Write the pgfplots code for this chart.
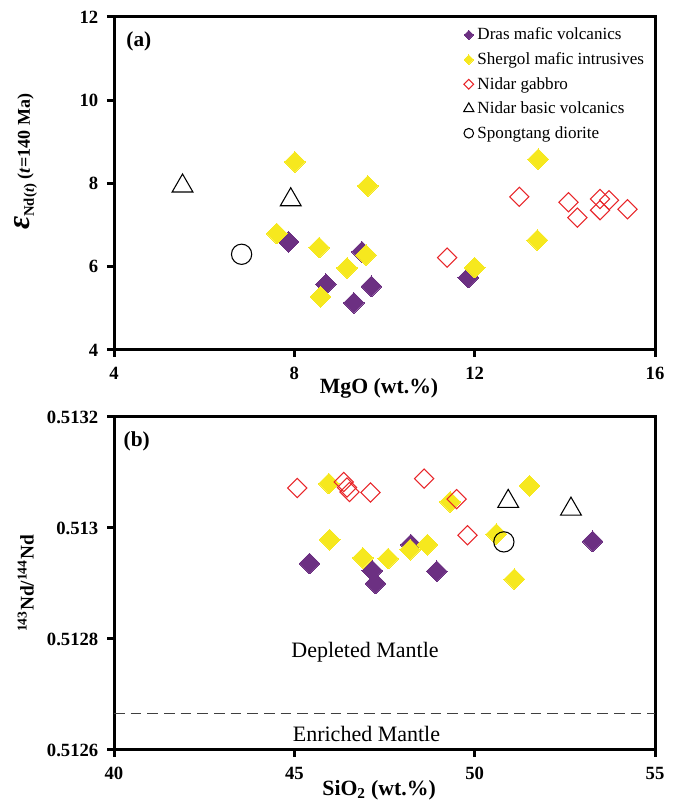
\documentclass[border=0pt]{standalone}
\usepackage{fontspec}
\setmainfont{Liberation Serif}
\usepackage{pgfplots}
\pgfplotsset{compat=1.18}
\definecolor{dras}{RGB}{108,48,130}
\definecolor{sherg}{RGB}{246,232,30}
\definecolor{nidar}{RGB}{232,38,42}
\pgfplotsset{
  myax/.style={
    width=405.75pt, height=249.75pt, scale only axis,
    axis line style={line width=2.25pt},
    tick align=outside, xtick pos=bottom, ytick pos=left,
    major tick length=5.25pt,
    every tick/.style={line width=2.25pt, black},
    tick label style={font=\bfseries\fontsize{14}{16}\selectfont},
    xticklabel style={yshift=-4pt},
    yticklabel style={xshift=-3pt},
    /pgf/number format/assume math mode=true,
    legend image code/.code={\path[draw=none, fill=none] (-5pt,-4pt) rectangle (5pt,4pt); \draw[#1] plot coordinates {(0pt,0pt)};},
  },
  dras/.style={only marks, color=dras, mark=square*, mark size=5.5pt,
    mark options={rotate=45, fill=dras, line width=0pt},
    legend image post style={mark size=2.5pt}},
  sherg/.style={only marks, color=sherg, mark=square*, mark size=5.5pt,
    mark options={rotate=45, fill=sherg, line width=0pt},
    legend image post style={mark size=2.5pt}},
  nidar/.style={only marks, color=nidar, mark=square, mark size=5.1pt,
    mark options={rotate=45, line width=0.8pt},
    legend image post style={mark size=2.6pt}},
  nbv/.style={only marks, color=black, mark=triangle, mark size=9pt,
    mark options={line width=0.8pt},
    legend image post style={mark size=4.4pt}},
  spong/.style={only marks, color=black, mark=o, mark size=7.6pt,
    mark options={line width=0.8pt},
    legend image post style={mark size=3.6pt}},
}
\begin{document}
\begin{tikzpicture}
\useasboundingbox (-85.5pt,-341.25pt) rectangle (423.75pt,262.5pt);
\begin{axis}[myax,
  xmin=4, xmax=16, ymin=4, ymax=12,
  xtick={4,8,12,16}, ytick={4,6,8,10,12},
  xlabel={MgO (wt.\%)},
  every axis x label/.style={at={(axis description cs:0.49,0)}, anchor=base, yshift=-32.5pt, font=\bfseries\fontsize{16.3}{18}\selectfont},
  ylabel={{\fontsize{24}{24}\selectfont\itshape ε}{\fontsize{11}{11}\selectfont\raisebox{-3pt}{Nd(\textit{t})}} (\textit{t}=140 Ma)},
  every axis y label/.style={at={(axis description cs:-0.163,0.565)}, anchor=center, rotate=90, font=\bfseries\fontsize{13.5}{16}\selectfont},
  legend style={at={(axis description cs:0.643,0.972)}, anchor=north west, draw=none, fill=none, inner sep=0pt,
    font=\fontsize{12.8}{15}\selectfont, row sep=6pt, column sep=0pt, nodes={inner xsep=1.5pt, inner ysep=1pt}},
  legend cell align=left,
]
\addplot[dras] coordinates {(7.87,6.60) (8.70,5.58) (9.50,6.36) (9.32,5.13) (9.71,5.53) (11.86,5.74)};
\addlegendentry{Dras mafic volcanics}
\addplot[sherg] coordinates {(7.61,6.80) (8.01,8.52) (8.55,6.46) (8.58,5.28) (9.17,5.97) (9.59,6.28) (9.63,7.94) (12.00,5.98) (13.41,8.58) (13.39,6.64)};
\addlegendentry{Shergol mafic intrusives}
\addplot[nidar] coordinates {(11.39,6.22) (12.99,7.68) (14.08,7.55) (14.28,7.18) (14.78,7.63) (14.98,7.60) (14.78,7.36) (15.39,7.38)};
\addlegendentry{Nidar gabbro}
\addplot[nbv] coordinates {(5.52,7.94) (7.92,7.61)};
\addlegendentry{Nidar basic volcanics}
\addplot[spong] coordinates {(6.83,6.30)};
\addlegendentry{Spongtang diorite}
\node[font=\bfseries\fontsize{16}{18}\selectfont] at (axis description cs:0.046,0.928) {(a)};
\end{axis}

\begin{axis}[myax, at={(0pt,-50.25pt)}, anchor=north west,
  xmin=40, xmax=55, ymin=0.5126, ymax=0.5132,
  xtick={40,45,50,55}, ytick={0.5126,0.5128,0.513,0.5132},
  yticklabels={0.5126,0.5128,0.513,0.5132},
  xlabel={SiO\textsubscript{2} (wt.\%)},
  every axis x label/.style={at={(axis description cs:0.49,0)}, anchor=base, yshift=-34pt, font=\bfseries\fontsize{16.3}{18}\selectfont},
  ylabel={\textsuperscript{143}Nd/\textsuperscript{144}Nd},
  every axis y label/.style={at={(axis description cs:-0.163,0.5)}, anchor=center, rotate=90, font=\bfseries\fontsize{14.5}{16}\selectfont},
]
\addplot[black!75, line width=0.8pt, dash pattern=on 8pt off 4.5pt] coordinates {(40,0.512666) (55,0.512666)};
\addplot[dras] coordinates {(45.42,0.512936) (47.16,0.512923) (47.25,0.512900) (48.23,0.512970) (48.95,0.512922) (53.27,0.512976)};
\addplot[sherg] coordinates {(45.96,0.513080) (45.98,0.512979) (46.90,0.512946) (47.60,0.512945) (48.21,0.512961) (48.69,0.512970) (49.32,0.513047) (50.60,0.512989) (51.10,0.512908) (51.52,0.513076)};
\addplot[nidar] coordinates {(45.08,0.513072) (46.37,0.513083) (46.46,0.513073) (46.53,0.513065) (47.11,0.513064) (48.60,0.513089) (49.50,0.513052) (49.80,0.512987)};
\addplot[nbv] coordinates {(50.93,0.513048) (52.67,0.513034)};
\addplot[spong] coordinates {(50.81,0.512975)};
\node[font=\fontsize{16.5}{18}\selectfont, anchor=base] at (axis cs:46.96,0.512766) {Depleted Mantle};
\node[font=\fontsize{16.5}{18}\selectfont, anchor=base] at (axis cs:47.0,0.512616) {Enriched Mantle};
\node[font=\bfseries\fontsize{16}{18}\selectfont] at (axis description cs:0.042,0.928) {(b)};
\end{axis}
\end{tikzpicture}
\end{document}
